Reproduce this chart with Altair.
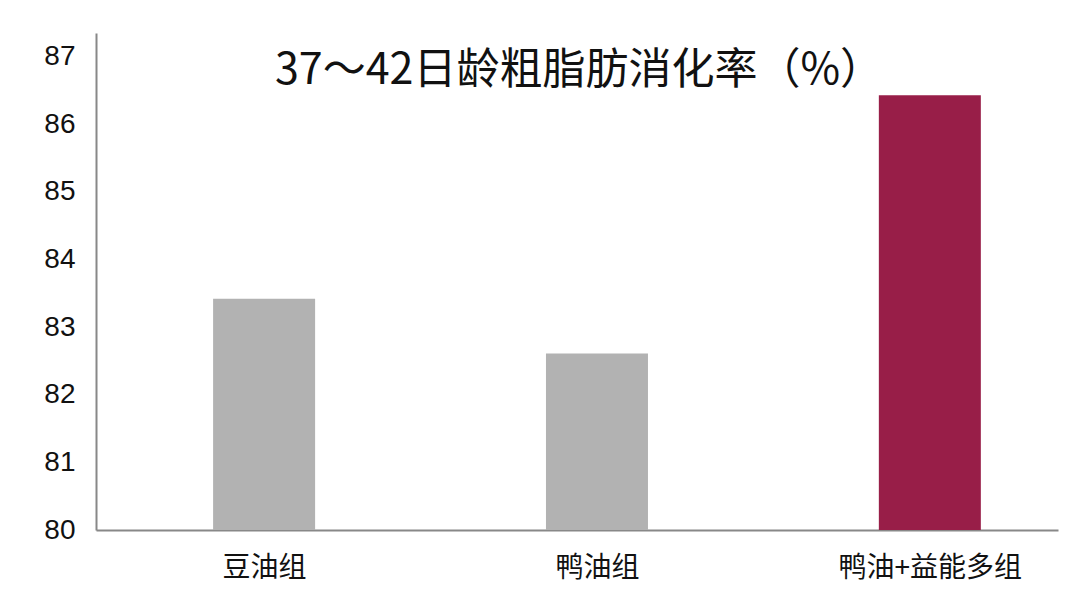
import altair as alt
import pandas as pd

categories = ["豆油组", "鸭油组", "鸭油+益能多组"]
values = [83.42, 82.61, 86.43]
colors = ["#b2b2b2", "#b2b2b2", "#981e48"]
baseline = 80

df = pd.DataFrame({
    "idx": list(range(len(categories))),
    "cat": categories,
    "val": values,
    "color": colors,
})

label_expr = "[" + ",".join(f"'{c}'" for c in categories) + "][datum.value]"

chart = alt.Chart(df).mark_bar(size=102).encode(
    x=alt.X("idx:Q",
            scale=alt.Scale(domain=[-0.49, 2.37], nice=False, zero=False),
            axis=alt.Axis(values=[0, 1, 2], labelExpr=label_expr, title=None,
                          grid=False, ticks=False, domainColor="#888888", domainWidth=2,
                          labelFont="Noto Sans CJK SC", labelFontSize=28, labelColor="#111111",
                          labelPadding=24, labelAngle=0, labelLimit=0, labelOverlap=False)),
    y=alt.Y("val:Q",
            scale=alt.Scale(domain=[80, 87.35], nice=False, zero=False),
            axis=alt.Axis(values=[80, 81, 82, 83, 84, 85, 86, 87], title=None, grid=False,
                          ticks=False, domainColor="#888888", domainWidth=2,
                          labelFont="Liberation Sans", labelFontSize=28, labelColor="#111111",
                          labelPadding=21, format="d")),
    y2=alt.datum(baseline),
    color=alt.Color("color:N", scale=None),
).properties(
    width=962,
    height=497,
    padding={"left": 88, "top": 25, "right": 14, "bottom": 69},
    autosize="none",
    title=alt.TitleParams("37～42日龄粗脂肪消化率（%）", font="Noto Sans CJK SC", fontSize=43,
                          fontWeight="normal", color="#111111", anchor="middle",
                          dx=2, dy=98, baseline="alphabetic"),
).configure_view(stroke=None)

chart.save("out.html", embed_options={"renderer": "svg", "actions": False})
